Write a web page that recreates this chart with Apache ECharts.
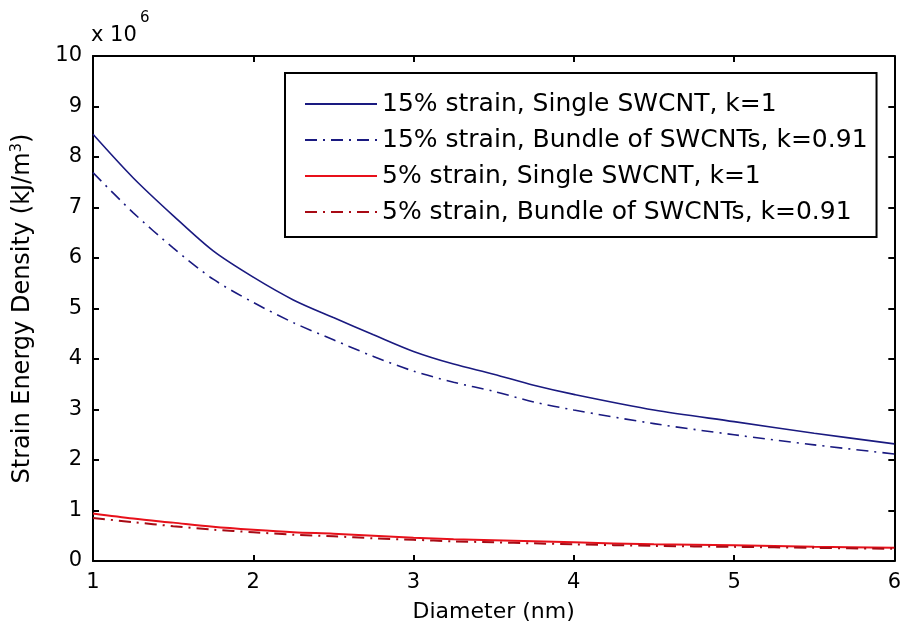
<!DOCTYPE html>
<html>
<head>
<meta charset="utf-8">
<script src="https://cdn.jsdelivr.net/npm/echarts@6/dist/echarts.min.js"></script>
<style>html,body{margin:0;padding:0;background:#fff;}#c{width:904px;height:633px;}</style>
</head>
<body>
<div id="c"></div>
<script>
const diameter = [1, 1.25, 1.5, 1.75, 2, 2.25, 2.5, 2.75, 3, 3.25, 3.5, 3.75, 4, 4.5, 5, 5.5, 6];
const single15 = [8.45, 7.59, 6.84, 6.14, 5.62, 5.17, 4.82, 4.48, 4.15, 3.90, 3.70, 3.48, 3.30, 2.99, 2.76, 2.53, 2.32];
const bundle15 = [7.69, 6.90, 6.20, 5.58, 5.12, 4.72, 4.38, 4.05, 3.76, 3.54, 3.36, 3.15, 2.99, 2.72, 2.50, 2.30, 2.12];
const single5  = [0.94, 0.84, 0.76, 0.68, 0.62, 0.57, 0.54, 0.50, 0.46, 0.43, 0.41, 0.39, 0.37, 0.33, 0.31, 0.28, 0.26];
const bundle5  = [0.85, 0.77, 0.69, 0.62, 0.57, 0.52, 0.49, 0.45, 0.42, 0.39, 0.37, 0.35, 0.33, 0.30, 0.28, 0.26, 0.24];
const seriesNames = [
  '15% strain, Single SWCNT, k=1',
  '15% strain, Bundle of SWCNTs, k=0.91',
  '5% strain, Single SWCNT, k=1',
  '5% strain, Bundle of SWCNTs, k=0.91'
];
const scale = 1e6;

const pairs = (ys) => diameter.map((d, i) => [d, ys[i] * scale]);
const FONT = 'DejaVu Sans, sans-serif';
const dashDot = [12, 6, 2, 6];

const chart = echarts.init(document.getElementById('c'), null, {renderer: 'canvas'});
const axisCommon = {
  axisLine: {show: true, onZero: false, lineStyle: {color: '#000', width: 2}},
  axisTick: {show: true, inside: true, length: 6, lineStyle: {color: '#000', width: 2}},
  splitLine: {show: false}
};
chart.setOption({
  animation: false,
  backgroundColor: '#fff',
  grid: {left: 93, right: 9, top: 56, bottom: 72, show: false},
  graphic: [
    {type: 'text', left: 91, top: 25,
      style: {text: 'x 10', fontSize: 21, fontFamily: FONT, fill: '#000'}},
    {type: 'text', left: 140, top: 11,
      style: {text: '6', fontSize: 15, fontFamily: FONT, fill: '#000'}}
  ],
  legend: {
    orient: 'vertical', left: 285, top: 73,
    backgroundColor: '#fff',
    borderColor: '#000', borderWidth: 2,
    padding: [18, 9, 12, 19],
    itemWidth: 72, itemHeight: 14, itemGap: 10,
    itemStyle: {opacity: 0},
    textStyle: {fontSize: 25, fontFamily: FONT, color: '#000', lineHeight: 26},
    data: seriesNames
  },
  xAxis: [
    Object.assign({type: 'value', min: 1, max: 6, interval: 1, position: 'bottom',
      name: 'Diameter (nm)', nameLocation: 'middle', nameGap: 40,
      nameTextStyle: {fontSize: 22, fontFamily: FONT, color: '#000'},
      axisLabel: {fontSize: 21, fontFamily: FONT, color: '#000', margin: 11}}, axisCommon),
    Object.assign({type: 'value', min: 1, max: 6, interval: 1, position: 'top',
      axisLabel: {show: false}}, axisCommon)
  ],
  yAxis: [
    Object.assign({type: 'value', min: 0, max: 10e6, interval: 1e6, position: 'left',
      name: 'Strain Energy Density (kJ/m{sup|3})', nameLocation: 'middle', nameGap: 58,
      nameTextStyle: {fontSize: 24, fontFamily: FONT, color: '#000',
        rich: {sup: {fontSize: 15, fontFamily: FONT, color: '#000', padding: [0,0,10,0]}}},
      axisLabel: {fontSize: 21, fontFamily: FONT, color: '#000', margin: 11,
        formatter: v => String(Math.round(v / scale))}}, axisCommon),
    Object.assign({type: 'value', min: 0, max: 10e6, interval: 1e6, position: 'right',
      axisLabel: {show: false}}, axisCommon)
  ],
  series: [
    {name: seriesNames[0], type: 'line', data: pairs(single15), symbol: 'none', smooth: 0.3,
      lineStyle: {color: '#1a1a80', width: 1.6, type: 'solid'}, itemStyle: {color: '#1a1a80'}},
    {name: seriesNames[1], type: 'line', data: pairs(bundle15), symbol: 'none', smooth: 0.3,
      lineStyle: {color: '#1a1a80', width: 1.6, type: dashDot}, itemStyle: {color: '#1a1a80'}},
    {name: seriesNames[2], type: 'line', data: pairs(single5), symbol: 'none', smooth: 0.3,
      lineStyle: {color: '#e8101a', width: 2, type: 'solid'}, itemStyle: {color: '#e8101a'}},
    {name: seriesNames[3], type: 'line', data: pairs(bundle5), symbol: 'none', smooth: 0.3,
      lineStyle: {color: '#a80a14', width: 2, type: dashDot}, itemStyle: {color: '#a80a14'}}
  ]
});
</script>
</body>
</html>
